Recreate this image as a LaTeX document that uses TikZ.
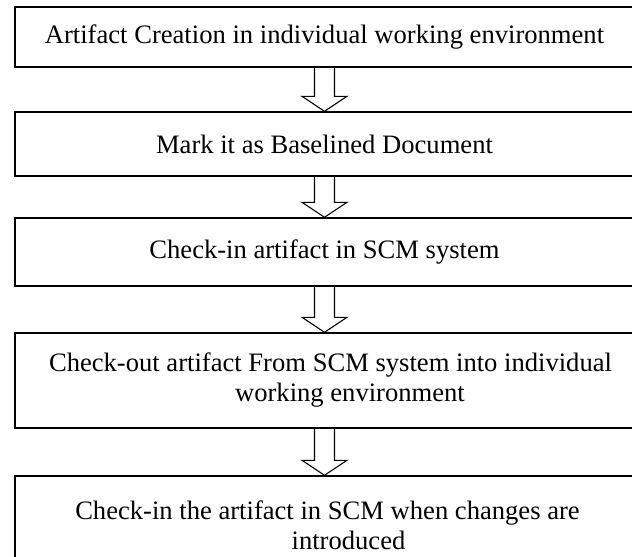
\documentclass[tikz,border=0pt]{standalone}
\usepackage{fontspec}
\setmainfont{Liberation Serif}
\usetikzlibrary{calc}

\tikzset{
  stepbox/.style={draw, line width=1.4pt, minimum width=619pt, inner sep=0pt,
    align=center, font=\fontsize{26.6}{30}\selectfont},
  hollow/.style={draw, line width=1.1pt, line join=miter}
}
% hollow block arrow from the bottom of #1 to the top of #2
\newcommand{\hollowarrow}[2]{%
  \draw[hollow] ($(#1.south)+(-10,0)$) -- ($(#2.north)+(-10,-15)$)
    -- ($(#2.north)+(-22.5,-15)$) -- (#2.north) -- ($(#2.north)+(22.5,-15)$)
    -- ($(#2.north)+(10,-15)$) -- ($(#1.south)+(10,0)$);}

\begin{document}
\begin{tikzpicture}[x=1pt,y=-1pt]
\useasboundingbox (0,0) rectangle (632,557);

\node(create)   at (324.5,37)   [stepbox, minimum height=60pt] {Artifact Creation in individual working environment};
\node(baseline) at (324.5,144)  [stepbox, minimum height=64pt] {Mark it as Baselined Document};
\node(checkin)  at (324.5,252)  [stepbox, minimum height=68pt] {Check-in artifact in SCM system};
\node(checkout) at (324.5,380.5)[stepbox, minimum height=95pt]
  {\hspace*{12pt}Check-out artifact From SCM system into individual\\\hspace*{51pt}working environment};
\node(recheck)  at (324.5,525)  [stepbox, minimum height=98pt]
  {\hspace*{6pt}Check-in the artifact in SCM when changes are\\\hspace*{48pt}introduced};

\hollowarrow{create}{baseline}
\hollowarrow{baseline}{checkin}
\hollowarrow{checkin}{checkout}
\hollowarrow{checkout}{recheck}

\end{tikzpicture}
\end{document}
